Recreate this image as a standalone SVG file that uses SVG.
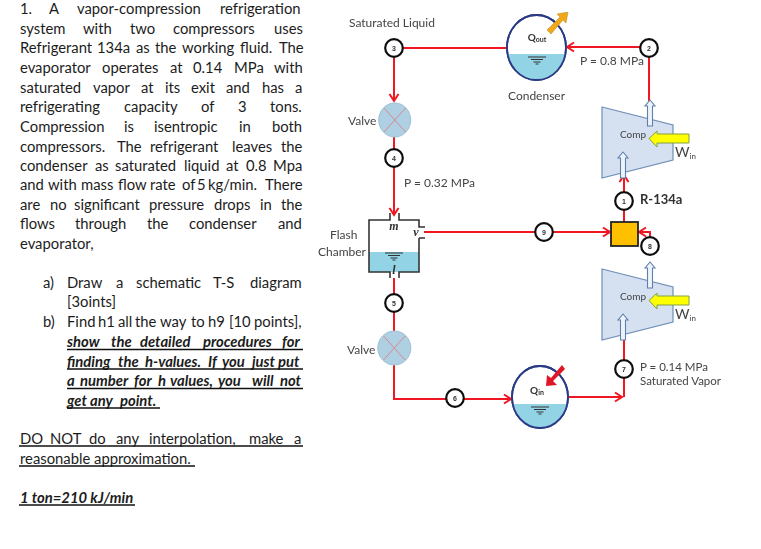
<svg xmlns="http://www.w3.org/2000/svg" xmlns:xlink="http://www.w3.org/1999/xlink" width="761" height="549" viewBox="0 0 761 549">
<style>
.t{font-family:Lato,"Liberation Sans",sans-serif;font-size:14.8px;fill:#1c1c1c}
.bi{font-weight:700;font-style:italic}
.ul{stroke:#111;stroke-width:1.4}
.lb{font-family:Lato,"Liberation Sans",sans-serif;font-size:12px;fill:#444}
.n{fill:#fff;stroke:#111;stroke-width:2.2}
.nt{font-family:"Liberation Sans",sans-serif;font-size:7px;font-weight:700;fill:#333;text-anchor:middle}
.r{fill:none;stroke:#f01820;stroke-width:2}
.ring{fill:#fff;stroke:#2b3a85;stroke-width:1.8}
.water{fill:#92d4e6}
.valve{fill:#aed0e2;stroke:#9cc0d4}
.x{stroke:#d98a94;stroke-width:1}
.comp{fill:#d5e1f0;stroke:#6f8fb8;stroke-width:1.2}
.ha{fill:#eef3fa;stroke:#5f80ac;stroke-width:1.1}
.win{fill:#ffff00;stroke:#82a040;stroke-width:1}
.sink{stroke:#333;stroke-width:1}
.wall{fill:none;stroke:#333;stroke-width:1.6}
.m{font-family:"Liberation Serif",serif;font-style:italic;font-size:12px;font-weight:700;fill:#333;text-anchor:middle}
.q{font-family:Lato,"Liberation Sans",sans-serif;font-weight:700;font-size:10px;fill:#333;text-anchor:middle}
</style>
<defs>
<marker id="ah" markerUnits="userSpaceOnUse" markerWidth="10" markerHeight="12" refX="8" refY="6" orient="auto">
<path d="M1 1.5L8 6L1 10.5" fill="none" stroke="#f01820" stroke-width="2"/>
</marker>
<filter id="soft" x="0" y="0" width="100%" height="100%"><feGaussianBlur stdDeviation="0.3"/></filter>
<clipPath id="cc"><ellipse cx="536.5" cy="47.5" rx="29.5" ry="32.5"/></clipPath>
<clipPath id="ce"><ellipse cx="540" cy="397" rx="28" ry="31"/></clipPath>
<path id="hollow" d="M-2.5 0V-20H-5L0 -26L5 -20H2.5V0Z"/>
<g id="sk">
<line class="sink" x1="-9" y1="0" x2="9" y2="0" stroke-width="1.5"/>
<line class="sink" x1="-6" y1="2.5" x2="6" y2="2.5"/>
<line class="sink" x1="-3.5" y1="5" x2="3.5" y2="5"/>
<line class="sink" x1="-1.5" y1="7" x2="1.5" y2="7"/>
</g>
</defs>
<rect width="761" height="549" fill="#fff"/>
<g id="problem-text">
<text class="t" y="14"><tspan x="20">1.</tspan><tspan x="49">A</tspan><tspan x="77">vapor-compression</tspan><tspan x="220">refrigeration</tspan></text>
<text class="t" y="34"><tspan x="20">system</tspan><tspan x="83">with</tspan><tspan x="130">two</tspan><tspan x="173">compressors</tspan><tspan x="274">uses</tspan></text>
<text class="t" y="53"><tspan x="20">Refrigerant</tspan><tspan x="97">134a</tspan><tspan x="136">as</tspan><tspan x="155">the</tspan><tspan x="182">working</tspan><tspan x="240">fluid.</tspan><tspan x="279">The</tspan></text>
<text class="t" y="73"><tspan x="20">evaporator</tspan><tspan x="102">operates</tspan><tspan x="170">at</tspan><tspan x="193">0.14</tspan><tspan x="234">MPa</tspan><tspan x="274">with</tspan></text>
<text class="t" y="93"><tspan x="20">saturated</tspan><tspan x="93">vapor</tspan><tspan x="141">at</tspan><tspan x="165">its</tspan><tspan x="191">exit</tspan><tspan x="226">and</tspan><tspan x="262">has</tspan><tspan x="295">a</tspan></text>
<text class="t" y="112"><tspan x="20">refrigerating</tspan><tspan x="124">capacity</tspan><tspan x="201">of</tspan><tspan x="238">3</tspan><tspan x="270">tons.</tspan></text>
<text class="t" y="132"><tspan x="20">Compression</tspan><tspan x="124">is</tspan><tspan x="154">isentropic</tspan><tspan x="239">in</tspan><tspan x="272">both</tspan></text>
<text class="t" y="152"><tspan x="20">compressors.</tspan><tspan x="117">The</tspan><tspan x="150">refrigerant</tspan><tspan x="232">leaves</tspan><tspan x="281">the</tspan></text>
<text class="t" y="171"><tspan x="20">condenser</tspan><tspan x="95">as</tspan><tspan x="115">saturated</tspan><tspan x="184">liquid</tspan><tspan x="226">at</tspan><tspan x="246">0.8</tspan><tspan x="273">Mpa</tspan></text>
<text class="t" y="190"><tspan x="20">and</tspan><tspan x="48">with</tspan><tspan x="81">mass</tspan><tspan x="118">flow</tspan><tspan x="150">rate</tspan><tspan x="182">of</tspan><tspan x="197">5</tspan><tspan x="208">kg/min.</tspan><tspan x="265">There</tspan></text>
<text class="t" y="210"><tspan x="20">are</tspan><tspan x="50">no</tspan><tspan x="74">significant</tspan><tspan x="149">pressure</tspan><tspan x="214">drops</tspan><tspan x="260">in</tspan><tspan x="281">the</tspan></text>
<text class="t" y="229"><tspan x="20">flows</tspan><tspan x="75">through</tspan><tspan x="147">the</tspan><tspan x="189">condenser</tspan><tspan x="278">and</tspan></text>
<text class="t" x="20" y="249">evaporator,</text>
<text class="t" y="288"><tspan x="43">a)</tspan><tspan x="67">Draw</tspan><tspan x="116">a</tspan><tspan x="136">schematic</tspan><tspan x="213">T-S</tspan><tspan x="250">diagram</tspan></text>
<text class="t" x="67" y="307">[3oints]</text>
<text class="t" y="327"><tspan x="43">b)</tspan><tspan x="67">Find</tspan><tspan x="98">h1</tspan><tspan x="118">all</tspan><tspan x="135">the</tspan><tspan x="160">way</tspan><tspan x="191">to</tspan><tspan x="208">h9</tspan><tspan x="229">[10</tspan><tspan x="254">points],</tspan></text>
<text class="t bi" y="347"><tspan x="67">show</tspan><tspan x="111">the</tspan><tspan x="140">detailed</tspan><tspan x="203">procedures</tspan><tspan x="282">for</tspan></text>
<text class="t bi" y="367"><tspan x="67">finding</tspan><tspan x="118">the</tspan><tspan x="145">h-values.</tspan><tspan x="208">If</tspan><tspan x="222">you</tspan><tspan x="252">just</tspan><tspan x="278">put</tspan></text>
<text class="t bi" y="386"><tspan x="67">a</tspan><tspan x="80">number</tspan><tspan x="134">for</tspan><tspan x="158">h</tspan><tspan x="170">values,</tspan><tspan x="218">you</tspan><tspan x="252">will</tspan><tspan x="280">not</tspan></text>
<text class="t bi" y="406"><tspan x="67">get</tspan><tspan x="90">any</tspan><tspan x="120">point.</tspan></text>
<text class="t" y="444"><tspan x="20">DO</tspan><tspan x="50">NOT</tspan><tspan x="89">do</tspan><tspan x="116">any</tspan><tspan x="149">interpolation,</tspan><tspan x="249">make</tspan><tspan x="294">a</tspan></text>
<text class="t" x="20" y="464">reasonable approximation.</text>
<text class="t bi" x="20" y="503">1 ton=210 kJ/min</text>
<g id="underlines">
<line class="ul" x1="67" y1="349.5" x2="303" y2="349.5"/>
<line class="ul" x1="67" y1="369" x2="303" y2="369"/>
<line class="ul" x1="67" y1="388.5" x2="303" y2="388.5"/>
<line class="ul" x1="67" y1="408" x2="160" y2="408"/>
<line class="ul" x1="19" y1="446" x2="303" y2="446"/>
<line class="ul" x1="19" y1="466" x2="195" y2="466"/>
<line class="ul" x1="19" y1="505" x2="135" y2="505"/>
</g>
</g>
<g id="diagram" filter="url(#soft)">
<g id="connectors">
<path class="r" d="M385 48H506"/>
<path class="r" d="M640 47H567" marker-end="url(#ah)"/>
<path class="r" d="M649 57V101"/>
<path class="r" d="M394 57V101" marker-end="url(#ah)"/>
<path class="r" d="M394 137V149"/>
<path class="r" d="M394 167V215" marker-end="url(#ah)"/>
<path class="r" d="M424 232H610" marker-end="url(#ah)"/>
<path class="r" d="M394 278V331"/>
<path class="r" d="M394 365V399H511" marker-end="url(#ah)"/>
<path class="r" d="M568 397H622" marker-end="url(#ah)"/>
<path class="r" d="M624 397V338"/>
<path class="r" d="M650 255V232H639" marker-end="url(#ah)"/>
<path class="r" d="M624 222V192"/>
<path class="r" d="M624 192V175" marker-end="url(#ah)"/>
</g>
<g id="condenser">
<ellipse class="ring" cx="536.5" cy="47.5" rx="29.5" ry="32.5"/>
<rect class="water" x="505" y="54" width="64" height="30" clip-path="url(#cc)"/>
<ellipse cx="536.5" cy="47.5" rx="29.5" ry="32.5" fill="none" stroke="#2b3a85" stroke-width="1.8"/>
<use href="#sk" x="537" y="57"/>
<path d="M547 30L560 17L557 14L568 12L566 23L563 20L551 34Z" fill="#f0a818" stroke="#b08a20" stroke-width=".5"/>
<text class="q" x="537" y="41">Q<tspan style="font-size:7px" dy="1">out</tspan></text>
<text class="lb" x="508" y="100">Condenser</text>
</g>
<g id="evaporator">
<ellipse class="ring" cx="540" cy="397" rx="28" ry="31"/>
<rect class="water" x="510" y="404" width="60" height="26" clip-path="url(#ce)"/>
<ellipse cx="540" cy="397" rx="28" ry="31" fill="none" stroke="#2b3a85" stroke-width="1.8"/>
<use href="#sk" x="540" y="407"/>
<path d="M565 369L553 381L557 385L546 386L547 375L551 378L562 365Z" fill="#e01825"/>
<text class="q" x="537" y="394">Q<tspan style="font-size:7px" dy="1">in</tspan></text>
</g>
<g id="valve-top">
<ellipse class="valve" cx="394.7" cy="120" rx="16" ry="17"/>
<line class="x" x1="384" y1="108" x2="405.5" y2="132"/><line class="x" x1="405.5" y1="108" x2="384" y2="132"/>
<text class="lb" x="348" y="125">Valve</text>
</g>
<g id="valve-bottom">
<ellipse class="valve" cx="394.3" cy="348" rx="16.5" ry="17"/>
<line class="x" x1="383.5" y1="336" x2="405" y2="360"/><line class="x" x1="405" y1="336" x2="383.5" y2="360"/>
<text class="lb" x="347" y="354">Valve</text>
</g>
<g id="flash-chamber">
<rect class="water" x="369" y="252" width="50" height="20"/>
<path class="wall" d="M390 213V220H369V272H390V278M399 213V220H419V227H425M419 238H425M419 238V272H399V278"/>
<use href="#sk" x="394" y="253"/>
<text class="m" x="394" y="230">m</text>
<text class="m" x="416" y="236">v</text>
<text class="m" x="394" y="274">l</text>
<text class="lb" x="330" y="239">Flash</text>
<text class="lb" x="318" y="256">Chamber</text>
</g>
<g id="comp-top">
<path class="comp" d="M602 107L673 125V160L602 178Z"/>
<use href="#hollow" class="ha" x="650" y="126"/>
<use href="#hollow" class="ha" x="623" y="178"/>
<path class="win" d="M689 134V143H657V147L649 138.5L657 131V134Z"/>
<text class="lb" x="620" y="138" style="font-size:10px">Comp</text>
<text class="lb" x="675" y="157" style="font-size:14px">W<tspan style="font-size:8px" dy="2">in</tspan></text>
</g>
<g id="comp-bottom">
<path class="comp" d="M602 269L673 287V322L602 340Z"/>
<use href="#hollow" class="ha" x="650" y="288"/>
<use href="#hollow" class="ha" x="623" y="340"/>
<path class="win" d="M689 296V305H657V309L649 300.5L657 293V296Z"/>
<text class="lb" x="620" y="300" style="font-size:10px">Comp</text>
<text class="lb" x="675" y="319" style="font-size:14px">W<tspan style="font-size:8px" dy="2">in</tspan></text>
</g>
<g id="mixer">
<rect x="611" y="222" width="27" height="24" fill="#ffc000" stroke="#222" stroke-width="1.8"/>
</g>
<g id="node-1"><circle class="n" cx="624" cy="201" r="8.8"/><text class="nt" x="624" y="203.5">1</text></g>
<g id="node-2"><circle class="n" cx="649" cy="48" r="8.8"/><text class="nt" x="649" y="50.5">2</text></g>
<g id="node-3"><circle class="n" cx="394" cy="48" r="8.8"/><text class="nt" x="394" y="50.5">3</text></g>
<g id="node-4"><circle class="n" cx="394" cy="158" r="8.8"/><text class="nt" x="394" y="160.5">4</text></g>
<g id="node-5"><circle class="n" cx="394" cy="303" r="8.8"/><text class="nt" x="394" y="305.5">5</text></g>
<g id="node-6"><circle class="n" cx="455" cy="398" r="8.8"/><text class="nt" x="455" y="400.5">6</text></g>
<g id="node-7"><circle class="n" cx="624" cy="369" r="8.8"/><text class="nt" x="624" y="371.5">7</text></g>
<g id="node-8"><circle class="n" cx="650" cy="246" r="8.8"/><text class="nt" x="650" y="248.5">8</text></g>
<g id="node-9"><circle class="n" cx="544" cy="232" r="8.8"/><text class="nt" x="544" y="234.5">9</text></g>
<g id="labels">
<text class="lb" x="349" y="27">Saturated Liquid</text>
<text class="lb" x="404" y="187">P = 0.32 MPa</text>
<text class="lb" x="580" y="65">P = 0.8 MPa</text>
<text class="lb" x="640" y="204" style="font-weight:700;font-size:13px;fill:#333">R-134a</text>
<text class="lb" x="640" y="371" style="font-size:11.5px">P = 0.14 MPa</text>
<text class="lb" x="640" y="385" style="font-size:11.5px">Saturated Vapor</text>
</g>
</g>
</svg>
